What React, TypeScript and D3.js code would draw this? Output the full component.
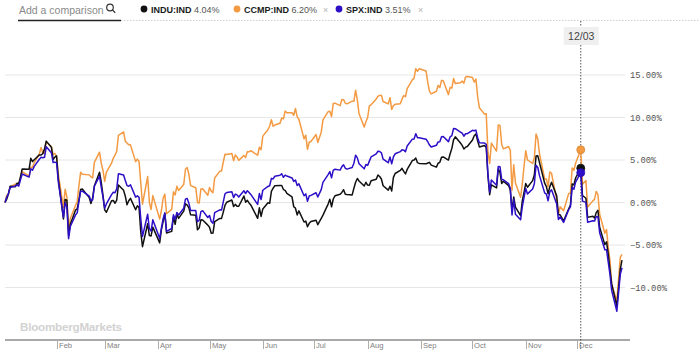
import React from "react";
import * as d3 from "d3";

// Trading days of 2018 per month (Jan..Dec)
const tradingDays: number[][] = [
  [2, 3, 4, 5, 8, 9, 10, 11, 12, 16, 17, 18, 19, 22, 23, 24, 25, 26, 29, 30, 31],
  [1, 2, 5, 6, 7, 8, 9, 12, 13, 14, 15, 16, 20, 21, 22, 23, 26, 27, 28],
  [1, 2, 5, 6, 7, 8, 9, 12, 13, 14, 15, 16, 19, 20, 21, 22, 23, 26, 27, 28, 29],
  [2, 3, 4, 5, 6, 9, 10, 11, 12, 13, 16, 17, 18, 19, 20, 23, 24, 25, 26, 27, 30],
  [1, 2, 3, 4, 7, 8, 9, 10, 11, 14, 15, 16, 17, 18, 21, 22, 23, 24, 25, 29, 30, 31],
  [1, 4, 5, 6, 7, 8, 11, 12, 13, 14, 15, 18, 19, 20, 21, 22, 25, 26, 27, 28, 29],
  [2, 3, 5, 6, 9, 10, 11, 12, 13, 16, 17, 18, 19, 20, 23, 24, 25, 26, 27, 30, 31],
  [1, 2, 3, 6, 7, 8, 9, 10, 13, 14, 15, 16, 17, 20, 21, 22, 23, 24, 27, 28, 29, 30, 31],
  [4, 5, 6, 7, 10, 11, 12, 13, 14, 17, 18, 19, 20, 21, 24, 25, 26, 27, 28],
  [1, 2, 3, 4, 5, 8, 9, 10, 11, 12, 15, 16, 17, 18, 19, 22, 23, 24, 25, 26, 29, 30, 31],
  [1, 2, 5, 6, 7, 8, 9, 12, 13, 14, 15, 16, 19, 20, 21, 23, 26, 27, 28, 29, 30],
  [3, 4, 6, 7, 10, 11, 12, 13, 14, 17, 18, 19, 20, 21, 24, 26, 27],
];

// % change since Jan 2, per month
const induPct: number[][] = [
  [0, 0.4, 1.01, 1.9, 1.85, 2.26, 2.2, 3.02, 3.94, 3.9, 5.2, 4.81, 5.03, 5.6, 5.59, 5.75, 6.32, 7.22, 6.51, 5.05, 5.34],
  [5.49, 2.81, -1.93, 0.36, 0.28, -3.88, -2.55, -0.9, -0.74, 0.28, 1.52, 1.59, 0.57, -0.11, 0.56, 1.96, 3.57, 2.36, 0.83],
  [-0.87, -1.15, 0.2, 0.24, -0.09, 0.29, 2.06, 1.43, 0.74, -0.27, 0.2, 0.49, -0.86, -0.39, -0.57, -3.49, -5.2, -2.5, -3.89, -3.93, -2.9],
  [-4.75, -3.19, -2.25, -1.28, -3.59, -3.4, -1.68, -2.56, -1.37, -1.87, -1.01, -0.15, -0.31, -0.64, -1.45, -1.51, -3.22, -2.98, -2.02, -2.06, -2.66],
  [-2.92, -3.62, -3.6, -2.26, -1.88, -1.87, -1.13, -0.34, 0.03, 0.3, -0.47, -0.22, -0.44, -0.44, 0.76, 0.04, 0.25, -0.05, -0.28, -1.86, -0.63, -1.64],
  [-0.76, -0.04, -0.1, 1.3, 1.68, 1.98, 2.01, 2.0, 1.52, 1.42, 1.07, 0.66, -0.5, -0.67, -1.46, -0.98, -2.3, -2.18, -2.85, -2.45, -2.23],
  [-2.08, -2.61, -1.88, -1.48, -0.19, 0.39, -0.5, 0.41, 0.79, 0.97, 1.19, 1.51, 0.97, 0.94, 0.89, 1.68, 2.38, 2.83, 2.53, 1.94, 2.38],
  [2.05, 2.02, 2.57, 2.73, 3.24, 3.06, 2.76, 1.97, 1.46, 1.92, 1.36, 2.96, 3.41, 3.77, 4.02, 3.66, 3.36, 3.89, 4.94, 4.99, 5.24, 4.69, 4.6],
  [4.55, 4.64, 4.72, 4.4, 4.16, 4.62, 4.73, 5.33, 5.36, 4.99, 5.73, 6.37, 7.38, 7.73, 7.0, 6.72, 6.29, 6.51, 6.58],
  [7.36, 7.86, 8.07, 7.27, 6.54, 6.7, 6.47, 3.12, 0.92, 2.08, 1.72, 3.93, 3.55, 2.24, 2.5, 1.99, 1.48, -0.97, 0.65, -0.55, -1.54, 0.2, 1.18],
  [2.24, 1.8, 2.57, 3.27, 5.46, 5.51, 4.69, 2.27, 1.86, 1.03, 1.87, 2.37, 0.78, -1.44, -1.45, -2.17, -0.74, -0.3, 2.19, 2.07, 2.88],
  [4.04, 0.82, 0.5, -1.75, -1.61, -1.83, -1.19, -0.91, -2.91, -4.96, -4.63, -6.04, -7.91, -9.58, -12.21, -7.84, -6.79],
];

const ccmpPct: number[][] = [
  [0, 0.84, 1.01, 1.85, 2.15, 2.24, 2.09, 2.92, 3.63, 3.09, 4.16, 4.13, 4.7, 5.72, 6.47, 5.83, 5.77, 7.12, 6.56, 5.65, 5.77],
  [5.41, 3.34, -0.56, 1.56, 0.64, -3.28, -1.89, -0.36, 0.09, 1.95, 3.56, 3.32, 3.25, 3.02, 2.9, 4.72, 5.92, 4.62, 3.8],
  [2.48, 3.58, 4.62, 5.21, 5.56, 6.01, 7.91, 8.3, 7.19, 6.99, 6.78, 6.78, 4.81, 5.1, 4.83, 2.28, -0.2, 3.05, 0.03, -0.82, 0.81],
  [-1.95, -0.94, 0.5, 0.99, -1.31, -0.81, 1.25, 0.89, 1.9, 1.42, 2.13, 3.91, 4.12, 3.3, 1.99, 1.74, 0.01, -0.05, 1.6, 1.61, 0.85],
  [1.77, 1.34, 1.16, 2.89, 3.69, 3.71, 4.75, 5.68, 5.65, 5.77, 4.92, 5.58, 5.36, 4.96, 5.53, 5.3, 5.98, 5.96, 6.09, 5.56, 6.5, 6.21],
  [7.81, 8.56, 9.0, 9.74, 8.97, 9.11, 9.32, 9.95, 9.83, 10.76, 10.55, 10.56, 10.26, 11.06, 10.08, 9.79, 7.49, 7.92, 6.25, 7.09, 7.18],
  [8.0, 7.07, 8.27, 9.73, 10.69, 10.74, 10.13, 11.66, 11.69, 11.4, 12.11, 12.1, 11.68, 11.61, 11.92, 11.9, 13.21, 12.06, 10.43, 8.89, 9.49],
  [10.0, 11.36, 11.49, 12.17, 12.51, 12.58, 12.63, 11.88, 11.6, 12.33, 10.95, 11.41, 11.55, 11.62, 12.16, 12.59, 12.44, 13.4, 14.43, 14.6, 15.74, 15.43, 15.74],
  [15.48, 14.1, 13.07, 12.78, 13.09, 13.78, 13.52, 14.37, 14.32, 12.69, 13.55, 13.46, 14.58, 13.99, 14.08, 14.28, 14.04, 14.77, 14.83],
  [14.71, 14.17, 14.53, 12.45, 11.15, 10.4, 10.43, 5.92, 4.6, 6.99, 6.05, 9.11, 9.07, 6.82, 6.31, 6.59, 6.15, 1.45, 4.44, 2.29, 0.62, 2.21, 4.27],
  [6.1, 5.0, 4.59, 5.27, 8.05, 7.48, 5.71, 2.77, 2.77, 1.85, 3.6, 3.44, 0.31, -1.4, -0.5, -0.97, 1.07, 1.08, 4.06, 3.8, 4.62],
  [6.2, 2.16, 2.59, -0.54, 0.19, 0.36, 1.3, 0.91, -1.37, -3.61, -3.18, -5.28, -6.83, -9.62, -11.62, -6.46, -6.1],
];

const spxPct: number[][] = [
  [0, 0.64, 1.05, 1.76, 1.93, 2.06, 1.94, 2.66, 3.35, 2.99, 3.96, 3.79, 4.25, 5.09, 5.32, 5.26, 5.32, 6.57, 5.85, 4.7, 4.75],
  [4.68, 2.46, -1.74, -0.02, -0.52, -4.26, -2.83, -1.48, -1.22, 0.1, 1.31, 1.35, 0.76, 0.2, 0.3, 1.91, 3.11, 1.8, 0.67],
  [-0.67, -0.17, 0.93, 1.2, 1.15, 1.6, 3.37, 3.24, 2.58, 1.99, 1.91, 2.09, 0.63, 0.78, 0.6, -1.93, -3.99, -1.38, -3.09, -3.37, -2.04],
  [-4.23, -3.02, -1.9, -1.22, -3.39, -3.06, -1.44, -1.99, -1.18, -1.47, -0.67, 0.39, 0.48, -0.1, -0.95, -0.95, -2.27, -2.09, -1.07, -0.96, -1.77],
  [-1.52, -2.23, -2.45, -1.2, -0.86, -0.89, 0.07, 1.01, 1.18, 1.27, 0.58, 0.99, 0.9, 0.64, 1.38, 1.06, 1.39, 1.18, 0.95, -0.22, 1.05, 0.35],
  [1.44, 1.89, 1.97, 2.84, 2.77, 3.09, 3.2, 3.38, 2.96, 3.22, 3.11, 2.89, 2.48, 2.65, 2.0, 2.19, 0.79, 1.01, 0.14, 0.76, 0.84],
  [1.15, 0.65, 1.51, 2.37, 3.28, 3.64, 2.9, 3.8, 3.91, 3.81, 4.22, 4.44, 4.03, 3.93, 4.12, 4.62, 5.57, 5.25, 4.56, 3.96, 4.47],
  [4.36, 4.87, 5.36, 5.73, 6.03, 6.0, 5.85, 5.1, 4.68, 5.35, 4.55, 5.37, 5.73, 5.98, 6.2, 6.16, 5.98, 6.64, 7.45, 7.48, 8.1, 7.62, 7.63],
  [7.45, 7.15, 6.76, 6.52, 6.73, 7.13, 7.16, 7.73, 7.76, 7.16, 7.73, 7.87, 8.71, 8.68, 8.29, 8.15, 7.8, 8.09, 8.09],
  [8.49, 8.44, 8.52, 7.63, 7.04, 7.0, 6.85, 3.33, 1.21, 2.65, 2.04, 4.23, 4.21, 2.71, 2.67, 2.23, 1.67, -1.47, 0.36, -1.38, -2.02, -0.49, 0.59],
  [1.65, 1.01, 1.58, 2.21, 4.38, 4.12, 3.16, 1.13, 0.98, 0.21, 1.27, 1.5, -0.19, -2.0, -1.7, -2.35, -0.83, -0.51, 1.78, 1.56, 2.39],
  [3.51, 0.16, 0.01, -2.33, -2.15, -2.19, -1.66, -1.68, -3.56, -5.56, -5.55, -7.01, -8.47, -10.36, -12.79, -8.46, -7.68],
];

const yTicks = [15, 10, 5, 0, -5, -10];
const monthLabels = ["Feb", "Mar", "Apr", "May", "Jun", "Jul", "Aug", "Sep", "Oct", "Nov", "Dec"];
const hoverDate = new Date(2018, 11, 3);
const hoverLabel = "12/03";

const seriesInfo = [
  { key: "CCMP:IND", values: ccmpPct, color: "#f39a42", hover: "6.20%" },
  { key: "INDU:IND", values: induPct, color: "#111111", hover: "4.04%" },
  { key: "SPX:IND", values: spxPct, color: "#2e0fc8", hover: "3.51%" },
];

const dates: Date[] = tradingDays.flatMap((days, m) => days.map((d) => new Date(2018, m, d)));

export default function App() {
  const W = 700;
  const H = 359;
  const x = d3
    .scaleTime()
    .domain([new Date(2018, 0, 2), new Date(2018, 11, 27)])
    .range([5, 622]);
  const y = d3.scaleLinear().domain([0, 10]).range([202.5, 117.5]);

  const line = d3
    .line<[Date, number]>()
    .x((d) => x(d[0]))
    .y((d) => y(d[1]));

  const seriesData = seriesInfo.map((s) => {
    const vals = s.values.flat();
    const pts: [Date, number][] = dates.map((d, i) => [d, vals[i]]);
    return { ...s, pts };
  });

  const hx = x(hoverDate);
  const axisY = 340;
  const font = "'Liberation Sans', Arial, sans-serif";

  const legend = [
    { dotX: 144, name: "INDU:IND", val: "4.04%", color: "#111", close: false },
    { dotX: 237, name: "CCMP:IND", val: "6.20%", color: "#f39a42", close: true, closeX: 323 },
    { dotX: 339, name: "SPX:IND", val: "3.51%", color: "#2e0fc8", close: true, closeX: 418 },
  ];

  return (
    <svg
      width={W}
      height={H}
      style={{ position: "absolute", left: 0, top: 0, display: "block", background: "#fff" }}
      fontFamily={font}
    >
      {/* header */}
      <text x={19} y={13.5} fontSize={10.5} fill="#8a8a8a">
        Add a comparison
      </text>
      <circle cx={110} cy={7.5} r={3.3} fill="none" stroke="#333" strokeWidth={1.2} />
      <line x1={112.4} y1={9.9} x2={115.2} y2={12.7} stroke="#333" strokeWidth={1.3} />
      <line x1={121} y1={20.5} x2={700} y2={20.5} stroke="#cfcfcf" strokeWidth={1} strokeDasharray="1.5,1.5" />
      <line x1={18} y1={20.5} x2={121} y2={20.5} stroke="#222" strokeWidth={1.5} />
      {legend.map((l) => (
        <g key={l.name}>
          <circle cx={l.dotX} cy={9} r={3.4} fill={l.color} />
          <text x={l.dotX + 7} y={12.5} fontSize={9} fill="#1a1a1a">
            <tspan fontWeight="bold">{l.name}</tspan>
            <tspan fill="#555"> {l.val}</tspan>
          </text>
          {l.close && (
            <text x={l.closeX} y={12.5} fontSize={9} fill="#b5b5b5">
              ×
            </text>
          )}
        </g>
      ))}

      {/* grid */}
      {yTicks.map((t) => (
        <g key={t}>
          <line x1={5} x2={625} y1={y(t)} y2={y(t)} stroke="#e6e6e6" strokeWidth={1} />
          <text
            x={630}
            y={y(t) + 3}
            fontSize={8.8}
            fill="#555"
            fontFamily="'Liberation Mono', 'DejaVu Sans Mono', monospace"
          >
            {(t > 0 ? "" : "") + d3.format(".2f")(t) + "%"}
          </text>
        </g>
      ))}

      {/* watermark */}
      <text x={20} y={331} fontSize={11.6} fontWeight="bold" fill="#d2d2d2" letterSpacing={-0.2}>
        BloombergMarkets
      </text>

      {/* x axis */}
      <line x1={5} x2={630} y1={axisY} y2={axisY} stroke="#555" strokeWidth={1.2} />
      {monthLabels.map((lab, i) => {
        const tx = Math.round(x(new Date(2018, i + 1, 1))) + 0.5;
        return (
          <g key={lab}>
            <line x1={tx} x2={tx} y1={axisY + 1} y2={axisY + 9} stroke="#999" strokeWidth={0.8} />
            <text x={tx + 1.5} y={axisY + 8} fontSize={7.6} fill="#808080">
              {lab}
            </text>
          </g>
        );
      })}

      {/* hover line & label */}
      <line x1={hx} x2={hx} y1={21} y2={349} stroke="#444" strokeWidth={0.9} strokeDasharray="1.5,1.5" />
      <rect x={hx - 17} y={27} width={35} height={18} fill="#efefef" />
      <text x={hx + 0.5} y={40} fontSize={10.5} fill="#444" textAnchor="middle">
        {hoverLabel}
      </text>

      {/* lines */}
      {seriesData.map((s) => (
        <path
          key={s.key}
          d={line(s.pts) || ""}
          fill="none"
          stroke={s.color}
          strokeWidth={1.5}
          strokeLinejoin="round"
        />
      ))}

      {/* hover markers */}
      {seriesData.map((s) => {
        const idx = dates.findIndex((d) => d.getTime() === hoverDate.getTime());
        const p = s.pts[idx];
        return (
          <circle
            key={s.key + "m"}
            cx={x(p[0])}
            cy={y(p[1])}
            r={4}
            fill={s.color}
            stroke={d3.color(s.color)!.darker(0.4).toString()}
            strokeWidth={0.8}
          />
        );
      })}
    </svg>
  );
}
